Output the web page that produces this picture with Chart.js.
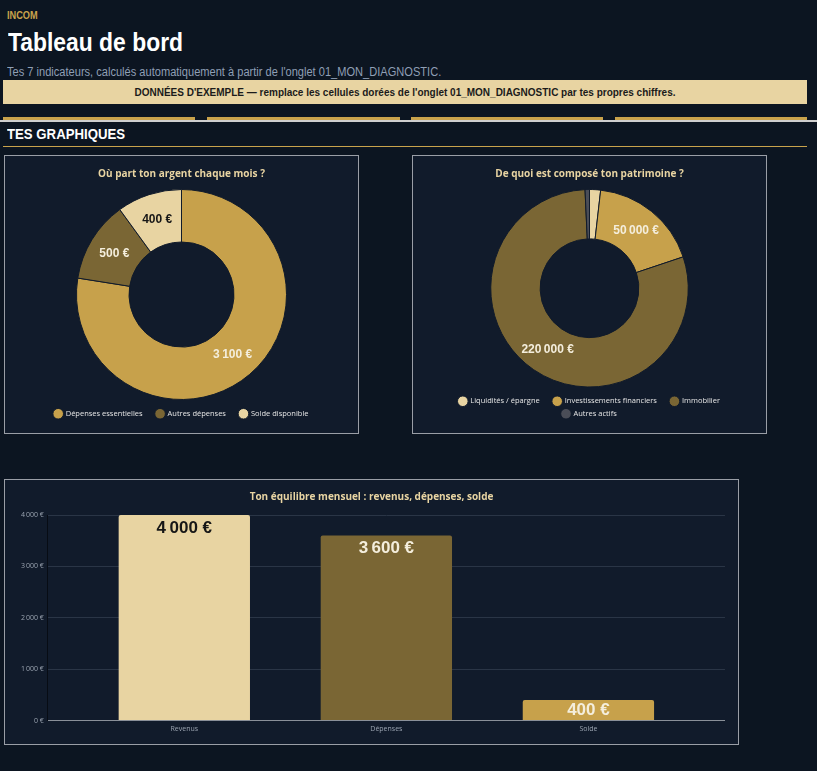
<!DOCTYPE html>
<html lang="fr">
<head>
<meta charset="utf-8">
<title>Tableau de bord</title>
<script src="https://cdn.jsdelivr.net/npm/chart.js@4/dist/chart.umd.min.js"></script>
<style>
  html,body{margin:0;padding:0;}
  body{width:817px;height:771px;background:#0c1521;position:relative;overflow:hidden;
       font-family:"Liberation Sans",Arial,sans-serif;}
  .abs{position:absolute;white-space:nowrap;}
  .narrow{transform-origin:0 50%;}
  #brand{left:7px;top:10px;font-size:10px;font-weight:bold;color:#c9a34c;transform:scaleX(.92);}
  #title{left:8px;top:27px;font-size:26px;font-weight:bold;color:#fff;transform:scaleX(.88);}
  #sub{left:7px;top:65px;font-size:12.5px;color:#8f9fb5;transform:scaleX(.886);}
  #banner{left:3px;top:80px;width:804px;height:24px;background:#e8d4a2;}
  #banner span{position:absolute;left:0;right:0;top:0;line-height:24px;text-align:center;color:#1b1b1b;
          font-size:11px;font-weight:bold;transform:scaleX(.908);transform-origin:50% 50%;}
  .strip{top:117px;height:3px;background:#c9a34c;}
  #rule{left:0;top:120px;width:817px;height:2px;background:#cfcfcf;}
  #section{left:7px;top:125px;font-size:15px;font-weight:bold;color:#fff;transform:scaleX(.88);}
  #secline{left:3px;top:146px;width:804px;height:1px;background:#c9a34c;}
  .card{background:#111b2b;border:1px solid #9a9ea6;box-sizing:border-box;}
  .card canvas{display:block;}
</style>
</head>
<body>
<div class="abs narrow" id="brand">INCOM</div>
<div class="abs narrow" id="title">Tableau de bord</div>
<div class="abs narrow" id="sub">Tes 7 indicateurs, calculés automatiquement à partir de l'onglet 01_MON_DIAGNOSTIC.</div>
<div class="abs" id="banner"><span>DONNÉES D'EXEMPLE — remplace les cellules dorées de l'onglet 01_MON_DIAGNOSTIC par tes propres chiffres.</span></div>
<div class="abs strip" style="left:3px;width:192px"></div>
<div class="abs strip" style="left:207px;width:193px"></div>
<div class="abs strip" style="left:411px;width:192px"></div>
<div class="abs strip" style="left:615px;width:192px"></div>
<div class="abs" id="rule"></div>
<div class="abs narrow" id="section">TES GRAPHIQUES</div>
<div class="abs" id="secline"></div>

<div class="abs card" style="left:4px;top:155px;width:355px;height:279px"><div style="width:353px;height:277px"><canvas id="chart-flux"></canvas></div></div>
<div class="abs card" style="left:412px;top:155px;width:355px;height:279px"><div style="width:353px;height:277px"><canvas id="chart-patrimoine"></canvas></div></div>
<div class="abs card" style="left:4px;top:479px;width:735px;height:266px"><div style="width:733px;height:264px"><canvas id="chart-equilibre"></canvas></div></div>

<script>
/* ---------- Données ---------- */
const FLUX_LABELS = ['Dépenses essentielles','Autres dépenses','Solde disponible'];
const FLUX_VALUES = [3100, 500, 400];
const FLUX_COLORS = ['#c7a14b','#7a6634','#e8d4a2'];

const PATRI_LABELS = ['Liquidités / épargne','Investissements financiers','Immobilier','Autres actifs'];
const PATRI_VALUES = [5000, 50000, 220000, 2000];
const PATRI_COLORS = ['#e8d4a2','#c7a14b','#7a6634','#4a4d57'];

const BAL_LABELS = ['Revenus','Dépenses','Solde'];
const BAL_VALUES = [4000, 3600, 400];
const BAL_COLORS = ['#e8d4a2','#7a6634','#c7a14b'];
const BAL_TICKS = [0, 1000, 2000, 3000, 4000];

const GOLD_LIGHT = '#e8d4a2';
const CARD_BG = '#111b2b';
const CHART_FONT = '"Open Sans","Liberation Sans",sans-serif';
const LABEL_FONT = '"Liberation Sans",Arial,sans-serif';
const LEGEND_SPACER = '\u2003\u2009';
const X_SIDE = 0.676; // marge de l'axe des catégories, en catégories

/* ---------- Utils ---------- */
function byId(id){ return document.getElementById(id); }
function fmtEuro(v){
  const s = Math.round(v).toString().replace(/\B(?=(\d{3})+(?!\d))/g,'\u202F');
  return s + '\u00A0€';
}
// texte foncé sur la couleur claire, crème sinon
function labelColor(bg){ return bg===GOLD_LIGHT ? '#161616' : '#f4eedd'; }

/* valeurs dans les parts du donut */
const arcLabels = {
  id:'arcLabels',
  afterDatasetsDraw(chart){
    const ds = chart.data.datasets[0];
    const total = ds.data.reduce((a,b)=>a+b,0);
    const ctx = chart.ctx;
    ctx.save();
    ctx.font = 'bold 12px ' + LABEL_FONT;
    ctx.textAlign = 'center';
    ctx.textBaseline = 'middle';
    chart.getDatasetMeta(0).data.forEach((arc,i)=>{
      if(ds.data[i]/total < 0.05) return;
      const p = arc.tooltipPosition();
      ctx.fillStyle = labelColor(ds.backgroundColor[i]);
      ctx.fillText(fmtEuro(ds.data[i]), p.x, p.y);
    });
    ctx.restore();
  }
};

/* valeurs en haut des barres */
const barLabels = {
  id:'barLabels',
  afterDatasetsDraw(chart){
    const ds = chart.data.datasets[0];
    const ctx = chart.ctx;
    ctx.save();
    ctx.font = 'bold 17px ' + LABEL_FONT;
    ctx.textAlign = 'center';
    ctx.textBaseline = 'middle';
    chart.getDatasetMeta(0).data.forEach((bar,i)=>{
      const y = Math.min(bar.y + 13, (bar.y + bar.base)/2);
      ctx.fillStyle = labelColor(ds.backgroundColor[i]);
      ctx.fillText(fmtEuro(ds.data[i]), bar.x, y);
    });
    ctx.restore();
  }
};

// légende : un espace après chaque entrée sauf en fin de ligne
function spacedLabels(rowEnds){
  return chart=>{
    const items = Chart.overrides.doughnut.plugins.legend.labels.generateLabels(chart);
    items.forEach((it,i)=>{ if(!rowEnds.includes(i)) it.text += LEGEND_SPACER; });
    return items;
  };
}

function makeDoughnut(id, labels, values, colors, title, rowEnds, sidePad){
  return new Chart(byId(id),{
    type:'doughnut',
    data:{labels, datasets:[{data:values, backgroundColor:colors, borderColor:CARD_BG,
      borderWidth:1, hoverOffset:0}]},
    options:{
      responsive:true, maintainAspectRatio:false, animation:false,
      cutout:'50%',
      layout:{padding:{top:0,bottom:5.5,left:sidePad,right:sidePad}},
      plugins:{
        title:{display:true,text:title,color:GOLD_LIGHT,
          font:{family:CHART_FONT,size:10,weight:'bold'},padding:{top:12,bottom:9}},
        legend:{position:'bottom',
          title:{display:true,text:'',font:{size:5,lineHeight:1},padding:0},
          labels:{color:'#e6e6e6',usePointStyle:true,pointStyle:'circle',boxWidth:8,
            padding:5,font:{family:CHART_FONT,size:7.5},generateLabels:spacedLabels(rowEnds)}},
        tooltip:{enabled:false}
      }
    },
    plugins:[arcLabels]
  });
}

/* ---------- Graphiques ---------- */
makeDoughnut('chart-flux', FLUX_LABELS, FLUX_VALUES, FLUX_COLORS,
  'Où part ton argent chaque mois ?', [2], 0);
makeDoughnut('chart-patrimoine', PATRI_LABELS, PATRI_VALUES, PATRI_COLORS,
  'De quoi est composé ton patrimoine ?', [2,3], 20);

new Chart(byId('chart-equilibre'),{
  type:'bar',
  data:{labels:BAL_LABELS,
    datasets:[{data:BAL_VALUES, backgroundColor:BAL_COLORS, borderRadius:2,
      barPercentage:0.65, categoryPercentage:1}]},
  options:{
    responsive:true, maintainAspectRatio:false, animation:false,
    layout:{padding:{top:0,right:12,bottom:7,left:12}},
    plugins:{
      legend:{display:false},
      tooltip:{enabled:false},
      title:{display:true,text:'Ton équilibre mensuel : revenus, dépenses, solde',color:GOLD_LIGHT,
        font:{family:CHART_FONT,size:10,weight:'bold'},padding:{top:11,bottom:12}}
    },
    scales:{
      x:{offset:false,grid:{display:false,drawTicks:false},border:{color:'#8a9099',width:1},
        ticks:{color:'#9aa3b0',padding:4,font:{family:CHART_FONT,size:7}},
        afterUpdate(s){ s._startValue = -X_SIDE; s._valueRange = BAL_LABELS.length - 1 + 2*X_SIDE; }},
      y:{min:BAL_TICKS[0],max:BAL_TICKS[BAL_TICKS.length-1],
        grid:{color:'#2a3546',drawTicks:false},border:{color:'#070c14',width:1},
        afterBuildTicks(s){ s.ticks = BAL_TICKS.map(v=>({value:v})); },
        ticks:{color:'#9aa3b0',padding:4,font:{family:CHART_FONT,size:7},
          callback:v=>fmtEuro(v)}}
    }
  },
  plugins:[barLabels]
});
</script>
</body>
</html>
